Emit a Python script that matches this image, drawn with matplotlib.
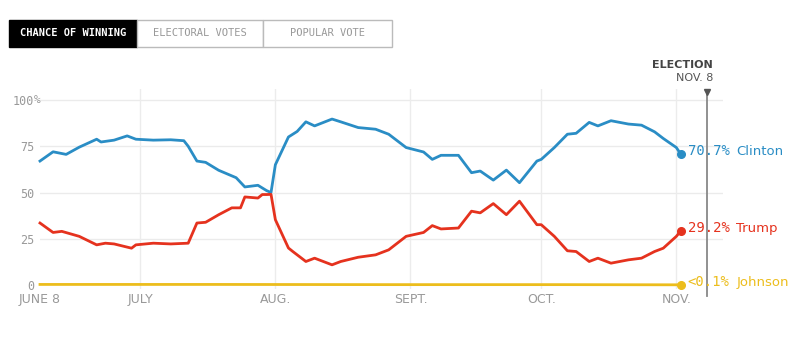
import matplotlib
matplotlib.use('Agg')
import matplotlib.pyplot as plt
from matplotlib.patches import Rectangle

# Days since June 8, 2016 and chance of winning (%)
CLINTON_DAYS = [0, 3, 6, 9, 13, 14, 17, 20, 22, 26, 30, 33, 34, 36, 38, 41, 45, 47, 50, 52,
                53, 54, 57, 59, 61, 63, 67, 69, 73, 77, 80, 84, 88, 90, 92, 96, 99, 101, 104, 107,
                110, 114, 115, 118, 121, 123, 126, 128, 131, 135, 138, 141, 143, 146, 147]
CLINTON = [67, 72, 70.6, 74.5, 78.8, 77.3, 78.3, 80.6, 78.8, 78.3, 78.5, 78, 75, 67, 66.3, 62, 58, 53, 53.9, 51,
           50, 65, 80, 83, 88.2, 86, 89.7, 88.2, 85.1, 84.2, 81.5, 74.3, 71.9, 67.9, 70.1, 70.1, 60.7, 61.6, 56.7, 62.1,
           55.3, 67, 67.9, 74.3, 81.5, 82, 87.9, 86, 88.8, 87, 86.4, 82.8, 79.2, 74.3, 70.7]

TRUMP_DAYS = [0, 3, 5, 9, 13, 15, 17, 21, 22, 26, 30, 34, 36, 38, 41, 44, 46, 47, 50, 51,
              52, 53, 54, 57, 58, 61, 63, 67, 69, 73, 77, 80, 84, 88, 90, 92, 96, 99, 101, 104,
              107, 110, 114, 115, 118, 121, 123, 126, 128, 131, 135, 138, 141, 143, 146, 147]
TRUMP = [33.5, 28.4, 29, 26.3, 21.7, 22.6, 22.2, 19.9, 21.7, 22.6, 22.2, 22.6, 33.5, 33.9, 38, 41.7, 41.7, 47.6, 47, 48.9,
         48.9, 49, 35.3, 20, 18.1, 12.7, 14.5, 10.9, 12.7, 15, 16.3, 19, 26.3, 28.4, 32.1, 30.3, 30.8, 39.9, 39, 44,
         38, 45.3, 32.6, 32.6, 26.3, 18.5, 18.1, 12.7, 14.5, 11.8, 13.6, 14.5, 18.1, 19.9, 26.3, 29.2]

JOHNSON_DAYS = [0, 40, 80, 120, 147]
JOHNSON = [0.3, 0.3, 0.2, 0.2, 0.1]

MONTH_DAYS = [0, 23, 54, 85, 115, 146]
MONTH_LABELS = ["JUNE 8", "JULY", "AUG.", "SEPT.", "OCT.", "NOV."]
Y_TICKS = [0, 25, 50, 75, 100]
ELECTION_DAY = 153

END_LABELS = [("70.7%", "Clinton"), ("29.2%", "Trump"), ("<0.1%", "Johnson")]
TABS = ["CHANCE OF WINNING", "ELECTORAL VOTES", "POPULAR VOTE"]

BLUE = '#2a8dc5'
RED = '#e5321e'
YELLOW = '#ecbd1c'
GRAY = '#999999'
MONO = 'DejaVu Sans Mono'

W, H = 800, 357
fig = plt.figure(figsize=(W / 100, H / 100), dpi=100)

def fx(px):
    return px / W

def fy(py):
    return 1 - py / H

# axes: day 0 at x=40px, 0% at y=285px, 1.85 px per %
ymin, ymax = -2, 106
ax = fig.add_axes([fx(40), fy(285 + 2 * 1.85), fx(723) - fx(40), (ymax - ymin) * 1.85 / H])
ax.set_xlim(0, 156.7)
ax.set_ylim(ymin, ymax)
for s in ax.spines.values():
    s.set_visible(False)

for y in Y_TICKS[1:]:
    ax.axhline(y, color='#ebebeb', lw=1, zorder=0)
for d in MONTH_DAYS[1:]:
    ax.axvline(d, color='#ececec', lw=1, zorder=0)

ax.plot(CLINTON_DAYS, CLINTON, color=BLUE, lw=2.0, solid_joinstyle='round', clip_on=False)
ax.plot(TRUMP_DAYS, TRUMP, color=RED, lw=2.0, solid_joinstyle='round', clip_on=False)
ax.plot(JOHNSON_DAYS, JOHNSON, color=YELLOW, lw=2.0, clip_on=False)
for days, vals, c in [(CLINTON_DAYS, CLINTON, BLUE), (TRUMP_DAYS, TRUMP, RED), (JOHNSON_DAYS, JOHNSON, YELLOW)]:
    ax.plot(days[-1], vals[-1], 'o', color=c, ms=5.5, clip_on=False, zorder=5)

ax.set_xticks(MONTH_DAYS)
ax.set_xticklabels(MONTH_LABELS, fontsize=9, color=GRAY)
ax.set_yticks(Y_TICKS)
ax.set_yticklabels([str(v) for v in Y_TICKS], fontsize=8.5, color=GRAY, family=MONO)
ax.tick_params(length=0)
ax.tick_params(axis='x', pad=3)
ax.tick_params(axis='y', pad=4)
fig.text(fx(34), fy(100), '%', fontsize=8, color=GRAY, family=MONO, va='center', ha='left')

# election day marker
ax.plot([ELECTION_DAY, ELECTION_DAY], [-6, 104], color='#888888', lw=1.3, clip_on=False)
ax.plot(ELECTION_DAY, 104.5, marker='v', color='#555555', ms=5, clip_on=False)
fig.text(fx(713), fy(65), 'ELECTION', fontsize=8, fontweight='bold', color='#444444', ha='right', va='center')
fig.text(fx(713), fy(78), 'NOV. 8', fontsize=8, color='#555555', ha='right', va='center')

# end labels
for (num, name), vals, c in zip(END_LABELS, [CLINTON, TRUMP, JOHNSON], [BLUE, RED, YELLOW]):
    ax.annotate(num, (147, vals[-1]), xytext=(5, 2), textcoords='offset points',
                fontsize=10, family=MONO, color=c, va='center', ha='left', annotation_clip=False)
    ax.annotate(name, (147, vals[-1]), xytext=(40, 2), textcoords='offset points',
                fontsize=9.5, color=c, va='center', ha='left', annotation_clip=False)

# tabs at the top
tab_x = [9, 137, 263, 392]
for i, label in enumerate(TABS):
    x0, x1 = tab_x[i], tab_x[i + 1]
    active = i == 0
    fig.add_artist(Rectangle((fx(x0), fy(47)), fx(x1) - fx(x0), fy(20) - fy(47),
                             transform=fig.transFigure,
                             facecolor='black' if active else 'white',
                             edgecolor='black' if active else '#bbbbbb', lw=1))
    fig.text(fx((x0 + x1) / 2), fy(33.5), label, fontsize=7.5, family=MONO,
             fontweight='bold' if active else 'normal',
             color='white' if active else '#999999', ha='center', va='center')

fig.savefig('out.png', dpi=100)
